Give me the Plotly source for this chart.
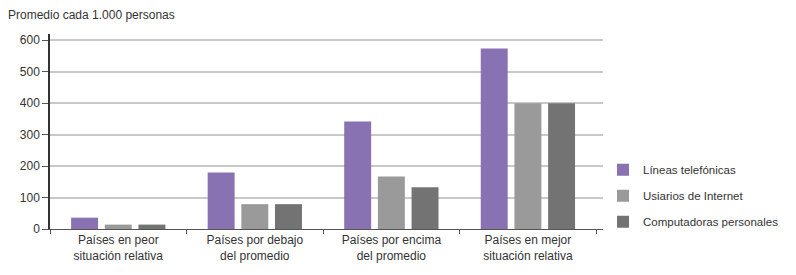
import plotly.graph_objects as go

categories = ["Países en peor<br>situación relativa", "Países por debajo<br>del promedio",
              "Países por encima<br>del promedio", "Países en mejor<br>situación relativa"]
series_names = ["Líneas telefónicas", "Usiarios de Internet", "Computadoras personales"]
lineas = [36, 180, 342, 574]
internet = [14, 79, 167, 400]
computadoras = [14, 79, 133, 400]
colors = ["#8872b1", "#9a9a9a", "#737373"]

FONT = "Liberation Sans, Arial, sans-serif"

# The page body adds an 8px margin, so the figure is sized 788x267 to fill the 796x275 window.
W, H = 788, 267

fig = go.Figure()
for name, vals, col in zip(series_names, [lineas, internet, computadoras], colors):
    fig.add_trace(go.Bar(x=categories, y=vals, name=name, marker_color=col,
                         marker_line_width=0, legendgroup=name))

fig.update_layout(
    width=W, height=H,
    margin=dict(l=40, r=186, t=26, b=38),
    plot_bgcolor="white", paper_bgcolor="white",
    barmode="group", bargap=0.26, bargroupgap=0.2,
    font=dict(family=FONT, size=12, color="#333333"),
    title=dict(text="Promedio cada 1.000 personas", xref="container", yref="container",
               x=0.0, xanchor="left", y=1 - 7/H, yanchor="middle",
               font=dict(family=FONT, size=12, color="#333333")),
    showlegend=True,
    legend=dict(x=1.0, xanchor="left", y=0.17, yanchor="middle",
                traceorder="grouped", tracegroupgap=7, itemwidth=30,
                bgcolor="rgba(0,0,0,0)",
                font=dict(family=FONT, size=11.5, color="#333333")),
)
fig.update_xaxes(type="category", range=[-0.5, 3.55], showline=True, linecolor="#555555",
                 linewidth=1, ticks="outside", tickson="boundaries", ticklen=4,
                 tickcolor="#555555", showgrid=False, fixedrange=True)
fig.update_yaxes(range=[0, 620], tickvals=[0, 100, 200, 300, 400, 500, 600],
                 showline=True, linecolor="#333333", linewidth=1.5,
                 ticks="outside", ticklen=6, tickcolor="#555555",
                 showgrid=True, gridcolor="#c8c8c8", gridwidth=1.5,
                 zeroline=False, fixedrange=True)

fig.write_html("out.html")
